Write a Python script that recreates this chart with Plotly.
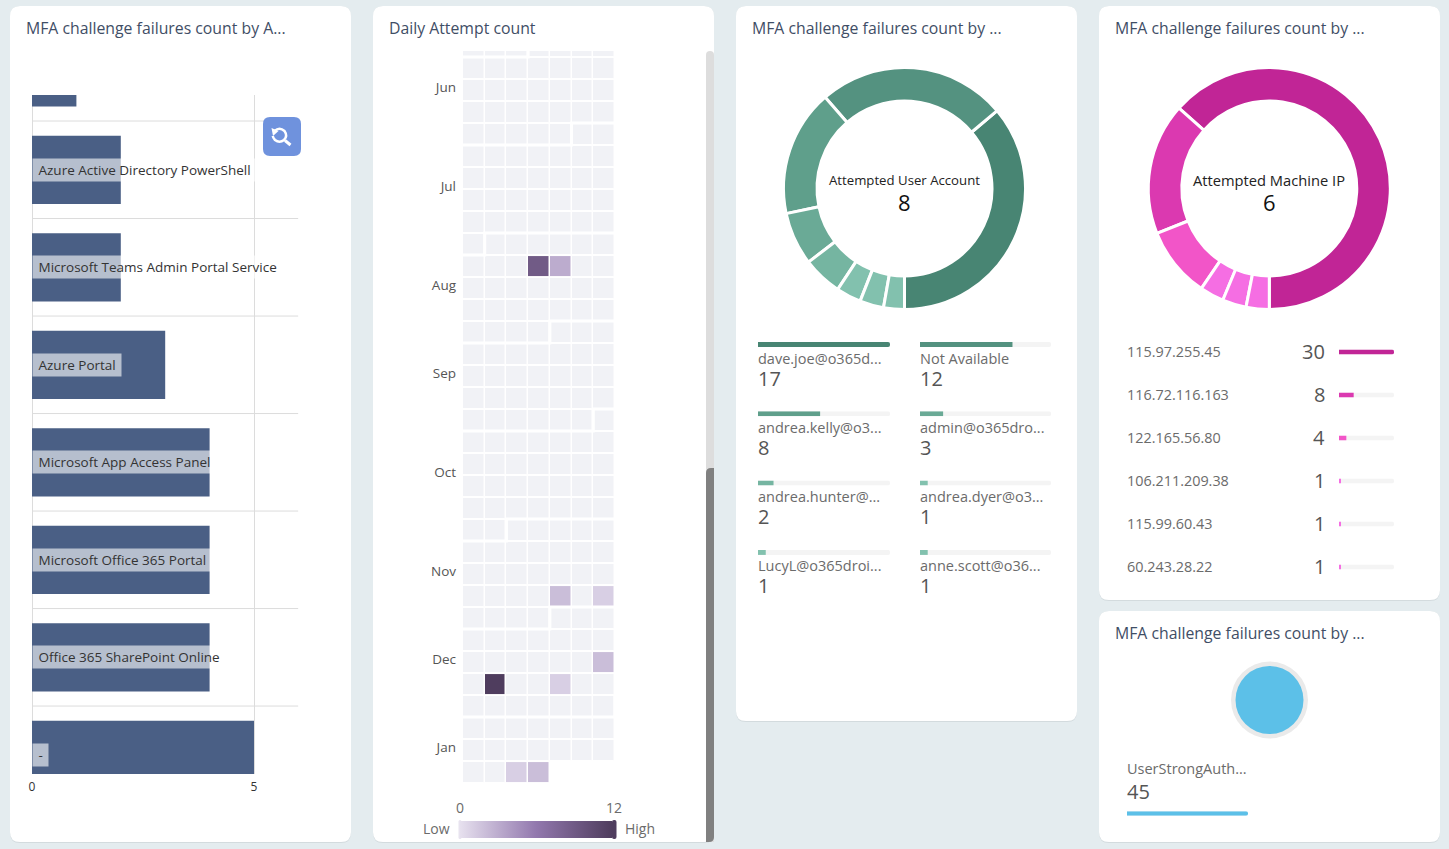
import plotly.graph_objects as go

W, H = 1449, 849
FONT = "Open Sans"

# ---------- data ----------
card_titles = ["MFA challenge failures count by A...", "Daily Attempt count",
               "MFA challenge failures count by ...", "MFA challenge failures count by ...",
               "MFA challenge failures count by ..."]

app_names = ["-", "Office 365 SharePoint Online", "Microsoft Office 365 Portal",
             "Microsoft App Access Panel", "Azure Portal",
             "Microsoft Teams Admin Portal Service", "Azure Active Directory PowerShell", " "]
app_counts = [5, 4, 4, 4, 3, 2, 2, 1]

month_names = ["Jun", "Jul", "Aug", "Sep", "Oct", "Nov", "Dec", "Jan"]
month_rows = [0.87, 5.37, 9.87, 13.87, 18.37, 22.87, 26.87, 30.87]
# (week row, first weekday column of the next month)
month_breaks = [(-1, 3), (3, 5), (8, 1), (12, 4), (16, 6), (21, 2), (25, 4), (29, 7)]
week_rows = list(range(-1, 33))
week_counts = [
    [0, 0, 0, 0, 0, 0, 0], [0, 0, 0, 0, 0, 0, 0], [0, 0, 0, 0, 0, 0, 0], [0, 0, 0, 0, 0, 0, 0],
    [0, 0, 0, 0, 0, 0, 0], [0, 0, 0, 0, 0, 0, 0], [0, 0, 0, 0, 0, 0, 0], [0, 0, 0, 0, 0, 0, 0],
    [0, 0, 0, 0, 0, 0, 0], [0, 0, 0, 0, 0, 0, 0],
    [0, 0, 0, 9, 3, 0, 0],
    [0, 0, 0, 0, 0, 0, 0], [0, 0, 0, 0, 0, 0, 0], [0, 0, 0, 0, 0, 0, 0], [0, 0, 0, 0, 0, 0, 0],
    [0, 0, 0, 0, 0, 0, 0], [0, 0, 0, 0, 0, 0, 0], [0, 0, 0, 0, 0, 0, 0], [0, 0, 0, 0, 0, 0, 0],
    [0, 0, 0, 0, 0, 0, 0], [0, 0, 0, 0, 0, 0, 0], [0, 0, 0, 0, 0, 0, 0], [0, 0, 0, 0, 0, 0, 0],
    [0, 0, 0, 0, 0, 0, 0], [0, 0, 0, 0, 0, 0, 0],
    [0, 0, 0, 0, 2, 0, 1],
    [0, 0, 0, 0, 0, 0, 0], [0, 0, 0, 0, 0, 0, 0],
    [0, 0, 0, 0, 0, 0, 2],
    [0, 12, 0, 0, 1, 0, 0],
    [0, 0, 0, 0, 0, 0, 0], [0, 0, 0, 0, 0, 0, 0], [0, 0, 0, 0, 0, 0, 0],
    [0, 0, 1, 2, None, None, None],
]
scale_limits = [0, 12]

user_names = ["dave.joe@o365d...", "Not Available", "andrea.kelly@o3...", "admin@o365dro...",
              "andrea.hunter@...", "andrea.dyer@o3...", "LucyL@o365droi...", "anne.scott@o36..."]
user_counts = [17, 12, 8, 3, 2, 1, 1, 1]
user_slice_degrees = [130, 91, 61, 25.5, 19, 12, 11.5, 10]
user_colors = ["#488573", "#549280", "#5F9F8B", "#6AAA96", "#75B5A1", "#82C1AE", "#82C1AE", "#82C1AE"]

ip_names = ["115.97.255.45", "116.72.116.163", "122.165.56.80", "106.211.209.38", "115.99.60.43", "60.243.28.22"]
ip_counts = [30, 8, 4, 1, 1, 1]
ip_slice_degrees = [228.3, 63.5, 34, 11.6, 11.5, 11.1]
ip_colors = ["#C12596", "#DB39B0", "#F255C8", "#F56EE3", "#F56EE3", "#F56EE3"]

reason_names = ["UserStrongAuth..."]
reason_counts = [45]
reason_colors = ["#5CC0E8"]

# ---------- helpers ----------
def fx(x): return x / W
def fy(y): return 1 - y / H

shapes, annotations = [], []
layout_axes = {}

def rounded(x0, y0, x1, y1, r, color, layer="below", corners=(1, 1, 1, 1)):
    tl, tr, br, bl = [r * c for c in corners]
    p = (f"M {fx(x0 + tl)} {fy(y0)} L {fx(x1 - tr)} {fy(y0)} Q {fx(x1)} {fy(y0)} {fx(x1)} {fy(y0 + tr)} "
         f"L {fx(x1)} {fy(y1 - br)} Q {fx(x1)} {fy(y1)} {fx(x1 - br)} {fy(y1)} "
         f"L {fx(x0 + bl)} {fy(y1)} Q {fx(x0)} {fy(y1)} {fx(x0)} {fy(y1 - bl)} "
         f"L {fx(x0)} {fy(y0 + tl)} Q {fx(x0)} {fy(y0)} {fx(x0 + tl)} {fy(y0)} Z")
    shapes.append(dict(type="path", path=p, xref="paper", yref="paper", fillcolor=color,
                       line=dict(width=0), layer=layer))

def label(x, y, s, size, color="#6B6B6B", anchor="left", weight=None):
    font = dict(family=FONT, size=size, color=color)
    if weight:
        font["weight"] = weight
    annotations.append(dict(x=fx(x), y=fy(y - 1), xref="paper", yref="paper", text=s, showarrow=False,
                            xanchor=anchor, yanchor="middle", font=font, borderpad=0, borderwidth=0))

axis_no = [2]
fig = go.Figure()

def progress(x0, x1, yc, value, maximum, color, h=5):
    axis_no[0] += 1
    n = axis_no[0]
    layout_axes[f"xaxis{n}"] = dict(domain=[fx(x0), fx(x1)], range=[0, maximum], visible=False,
                                    anchor=f"y{n}", fixedrange=True)
    layout_axes[f"yaxis{n}"] = dict(domain=[fy(yc + h / 2), fy(yc - h / 2)], range=[-0.5, 0.5], visible=False,
                                    anchor=f"x{n}", fixedrange=True)
    for v, c in ((maximum, "#F4F4F4"), (value, color)):
        fig.add_trace(go.Bar(x=[v], y=[0], orientation="h", width=1, xaxis=f"x{n}", yaxis=f"y{n}",
                             marker=dict(color=c, line=dict(width=0), cornerradius=2.5),
                             showlegend=False, hoverinfo="x"))

def donut(cx, cy, r, values, names, colors, hole, gap):
    # plotly's counterclockwise pie: the first slice ENDS at `rotation`, so the first slice spans
    # clockwise from rotation up to 180 degrees (six o'clock), and the rest continue counterclockwise.
    rot = 180 - values[0] / sum(values) * 360
    fig.add_trace(go.Pie(values=values, labels=names, sort=False, direction="counterclockwise", rotation=rot,
                         hole=hole, textinfo="none", showlegend=False,
                         domain=dict(x=[fx(cx - r), fx(cx + r)], y=[fy(cy + r), fy(cy - r)]),
                         marker=dict(colors=colors, line=dict(color="white", width=gap))))

# ---------- cards ----------
cards = [(10, 6, 351, 842), (373, 6, 714, 842), (736, 6, 1077, 721), (1099, 6, 1440, 600), (1099, 611, 1440, 842)]
title_y = [29, 29, 29, 29, 634]
title_x = [26, 389, 752, 1115, 1115]
for c, t, tx, ty in zip(cards, card_titles, title_x, title_y):
    rounded(c[0], c[1], c[2], c[3] + 1, 10, "#D3DBDE")
    rounded(c[0], c[1], c[2], c[3], 10, "#FFFFFF")
    label(tx, ty, t, 15.8, "#3F4E66", weight=500)

# ---------- card 1: horizontal bars ----------
fig.add_trace(go.Bar(x=app_counts, y=app_names, orientation="h", width=0.7, xaxis="x", yaxis="y",
                     marker=dict(color="#4A5F85", line=dict(width=0)), showlegend=False))
layout_axes["xaxis"] = dict(domain=[fx(32), fx(298.4)], range=[0, 6], tickvals=[0, 5], ticks="", anchor="y",
                            showgrid=True, gridcolor="#DCDCDC", gridwidth=1, zeroline=True, zerolinecolor="#DCDCDC",
                            zerolinewidth=1, ticklabelstandoff=4,
                            tickfont=dict(family=FONT, size=12, color="#333333"), fixedrange=True)
layout_axes["yaxis"] = dict(domain=[fy(774), fy(95)], type="category", categoryorder="array", categoryarray=app_names,
                            range=[-0.197, 6.767], showticklabels=False, ticks="", anchor="x",
                            showgrid=False, zeroline=False, fixedrange=True)
for k in range(7):
    shapes.append(dict(type="line", xref="x", yref="y", x0=0, x1=6, y0=k + 0.5, y1=k + 0.5,
                       line=dict(color="#DCDCDC", width=1), layer="below"))
for k, name in enumerate(app_names[:-1]):
    annotations.append(dict(x=0, y=name, xref="x", yref="y", text="\u00a0" + name + "\u00a0", showarrow=False,
                            xanchor="left", yanchor="middle", align="left", bgcolor="rgba(255,255,255,0.6)",
                            borderpad=2, font=dict(family=FONT, size=13.5, color="#333333")))
# reset-zoom button
rounded(263, 117, 301, 156, 7, "#6F92DD", layer="above")
stroke = dict(color="white", width=2.5)
shapes.append(dict(type="path", xref="paper", yref="paper", layer="above", line=stroke,
                   path=(f"M {fx(274.5)} {fy(131)} Q {fx(279.5)} {fy(126.5)} {fx(284.5)} {fy(131)} "
                         f"Q {fx(288)} {fy(136)} {fx(284)} {fy(140)} Q {fx(279.5)} {fy(143.5)} {fx(275)} {fy(140)} "
                         f"Q {fx(273)} {fy(138)} {fx(272.8)} {fy(136)}")))
shapes.append(dict(type="path", xref="paper", yref="paper", layer="above", fillcolor="white", line=dict(width=0),
                   path=f"M {fx(271.5)} {fy(128)} L {fx(278.5)} {fy(131)} L {fx(273)} {fy(136)} Z"))
shapes.append(dict(type="line", xref="paper", yref="paper", layer="above", line=dict(color="white", width=3),
                   x0=fx(285), y0=fy(140.5), x1=fx(290.5), y1=fy(145)))

# ---------- card 2: calendar heatmap ----------
fig.add_trace(go.Heatmap(z=week_counts, x=list(range(7)), y=week_rows, xaxis="x2", yaxis="y2", xgap=1.5, ygap=2,
                         zmin=scale_limits[0], zmax=scale_limits[1],
                         colorscale=[[0, "#F1F2F6"], [0.002, "#E6E0EE"], [0.5, "#9278AE"], [1, "#4F3D5E"]],
                         colorbar=dict(orientation="h", thickness=17, thicknessmode="pixels", len=152, lenmode="pixels",
                                       x=fx(460), xanchor="left", y=fy(838), yanchor="bottom", xpad=0, ypad=0,
                                       outlinewidth=0, showticklabels=False, ticks="")))
layout_axes["xaxis2"] = dict(domain=[fx(463), fx(615)], range=[-0.5, 6.5], visible=False, anchor="y2", fixedrange=True)
layout_axes["yaxis2"] = dict(domain=[fy(783), fy(51)], range=[32.5, -0.773], anchor="x2", tickvals=month_rows,
                             ticktext=month_names, ticks="", showgrid=False, zeroline=False, showline=False,
                             ticklabelstandoff=6, tickfont=dict(family=FONT, size=13.5, color="#555555"), fixedrange=True)
for r, c in month_breaks:
    shapes.append(dict(type="path", xref="x2", yref="y2", layer="above", line=dict(color="white", width=3),
                       path=f"M -0.5 {r + 0.5} L {c - 0.5} {r + 0.5} L {c - 0.5} {r - 0.5} L 6.5 {r - 0.5}"))
label(450, 829, "Low", 14, "#6B6B6B", "right")
label(625, 829, "High", 14, "#6B6B6B", "left")
label(460, 808, str(scale_limits[0]), 14, "#6B6B6B", "center")
label(614, 808, str(scale_limits[1]), 14, "#6B6B6B", "center")
rounded(458.5, 820, 461.5, 839, 1.5, "#E8E3EF", layer="above")
rounded(612, 820, 616.5, 839, 2, "#4F3D5E", layer="above")
rounded(706, 51, 714, 842, 4, "#DDDDDD", layer="above", corners=(1, 1, 0, 0))
rounded(706, 468, 714, 842, 5, "#808080", layer="above", corners=(1, 0, 1, 0))

# ---------- card 3: users ----------
donut(904.5, 188.5, 121, user_slice_degrees, user_names, user_colors, 0.723, 3)
label(904.5, 181, "Attempted User Account", 13.2, "#222222", "center")
label(904.5, 203, str(len(user_names)), 22, "#111111", "center")
user_bar_max = max(user_counts)
for i, (n, v, c) in enumerate(zip(user_names, user_counts, user_colors)):
    row, col = i // 2, i % 2
    x0, x1 = (758, 890) if col == 0 else (920, 1051)
    progress(x0, x1, 344.5 + row * 69.3, v, user_bar_max, c)
    label(x0, 359 + row * 69, n, 14.5)
    label(x0, 379 + row * 69.3, str(v), 20, "#555555")

# ---------- card 4: IPs ----------
donut(1269.3, 188.5, 121, ip_slice_degrees, ip_names, ip_colors, 0.723, 3)
label(1269.3, 181, "Attempted Machine IP", 14.7, "#222222", "center")
label(1269.3, 203, str(len(ip_names)), 22, "#111111", "center")
ip_bar_max = max(ip_counts)
for i, (n, v, c) in enumerate(zip(ip_names, ip_counts, ip_colors)):
    yb = 352 + i * 43
    label(1127, yb, n, 14.4)
    label(1325, yb, str(v), 20, "#555555", "right")
    progress(1339, 1394, yb, v, ip_bar_max, c)

# ---------- card 5: reason ----------
shapes.append(dict(type="circle", xref="paper", yref="paper", x0=fx(1231), x1=fx(1308), y0=fy(738.5), y1=fy(661.5),
                   fillcolor="#EAEAEA", line=dict(width=0), layer="below"))
donut(1269.5, 700, 34, reason_counts, reason_names, reason_colors, 0, 0)
label(1127, 769, reason_names[0], 14.5)
label(1127, 792, str(reason_counts[0]), 20, "#555555")
progress(1127, 1248, 813.5, reason_counts[0], max(reason_counts), reason_colors[0], h=4.5)

fig.update_layout(width=W, height=H, margin=dict(l=0, r=0, t=0, b=0, autoexpand=False), autosize=False,
                  paper_bgcolor="#E4ECEF", plot_bgcolor="rgba(0,0,0,0)", barmode="overlay", showlegend=False,
                  shapes=shapes, annotations=annotations, font=dict(family=FONT), **layout_axes)
fig.write_html("out.html", config=dict(displayModeBar=False),
               post_script="document.body.style.margin='0';document.body.style.overflow='hidden';"
                           "document.body.style.background='#E4ECEF';")
